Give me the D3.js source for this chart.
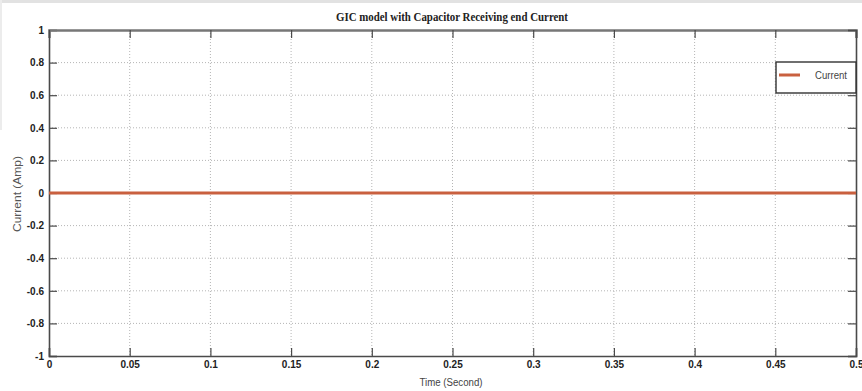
<!DOCTYPE html>
<html>
<head>
<meta charset="utf-8">
<script src="https://cdn.jsdelivr.net/npm/d3@7"></script>
<style>
  html, body { margin: 0; padding: 0; background: #fff; }
  svg { display: block; }
</style>
</head>
<body>
<svg id="chart" width="862" height="391"></svg>
<script>
// Receiving-end current of the GIC model with capacitor
const timeSec = [0, 0.05, 0.1, 0.15, 0.2, 0.25, 0.3, 0.35, 0.4, 0.45, 0.5];
const currentAmp = [0, 0, 0, 0, 0, 0, 0, 0, 0, 0, 0];
const xTicks = [0, 0.05, 0.1, 0.15, 0.2, 0.25, 0.3, 0.35, 0.4, 0.45, 0.5];
const xTickLabels = ["0", "0.05", "0.1", "0.15", "0.2", "0.25", "0.3", "0.35", "0.4", "0.45", "0.5"];
const yTicks = [1, 0.8, 0.6, 0.4, 0.2, 0, -0.2, -0.4, -0.6, -0.8, -1];
const yTickLabels = ["1", "0.8", "0.6", "0.4", "0.2", "0", "-0.2", "-0.4", "-0.6", "-0.8", "-1"];
const seriesName = "Current";
const titleText = "GIC model with Capacitor Receiving end Current";
const xLabel = "Time (Second)";
const yLabel = "Current (Amp)";

const svg = d3.select("#chart");
const W = 862, H = 391;
const m = { left: 49, right: 6, top: 30, bottom: 35 };
const pw = W - m.left - m.right, ph = H - m.top - m.bottom;

// faint frame band along the top edge
svg.append("rect").attr("x", 0).attr("y", 0).attr("width", W).attr("height", 3).attr("fill", "#e2e2e2");
svg.append("rect").attr("x", 0).attr("y", 0).attr("width", 2).attr("height", 130).attr("fill", "#ececec");

const x = d3.scaleLinear().domain([0, 0.5]).range([m.left, m.left + pw]);
const y = d3.scaleLinear().domain([-1, 1]).range([m.top + ph, m.top]);

const g = svg.append("g");
const tickFont = "'Liberation Sans', Arial, sans-serif";

// dotted grid
g.append("g").selectAll("line").data(xTicks.slice(1, -1)).join("line")
  .attr("x1", d => x(d)).attr("x2", d => x(d))
  .attr("y1", m.top).attr("y2", m.top + ph)
  .attr("stroke", "#b5b5b5").attr("stroke-width", 1).attr("stroke-dasharray", "1,2");
g.append("g").selectAll("line").data(yTicks.slice(1, -1)).join("line")
  .attr("x1", m.left).attr("x2", m.left + pw)
  .attr("y1", d => y(d)).attr("y2", d => y(d))
  .attr("stroke", "#b5b5b5").attr("stroke-width", 1).attr("stroke-dasharray", "1,2");

// axes (bottom & left with labels, top & right mirrored ticks)
const axisColor = "#4a4a4a";
const axBottom = g.append("g").attr("transform", `translate(0,${m.top + ph})`)
  .call(d3.axisBottom(x).tickValues(xTicks).tickSize(-8).tickPadding(5)
    .tickFormat((d, i) => xTickLabels[i]));
const axLeft = g.append("g").attr("transform", `translate(${m.left},0)`)
  .call(d3.axisLeft(y).tickValues(yTicks).tickSize(-8).tickPadding(5)
    .tickFormat((d, i) => yTickLabels[i]));
const axTop = g.append("g").attr("transform", `translate(0,${m.top})`)
  .call(d3.axisTop(x).tickValues(xTicks).tickSize(-8).tickFormat(""));
const axRight = g.append("g").attr("transform", `translate(${m.left + pw},0)`)
  .call(d3.axisRight(y).tickValues(yTicks).tickSize(-8).tickFormat(""));

[axBottom, axLeft, axTop, axRight].forEach(a => {
  a.select(".domain").attr("stroke", axisColor).attr("stroke-width", 1.6);
  a.selectAll(".tick line").attr("stroke", axisColor).attr("stroke-width", 1.2);
  a.selectAll(".tick text").attr("fill", "#222").attr("font-family", tickFont)
    .attr("font-size", 10).attr("font-weight", "bold");
});
axTop.select(".domain").attr("stroke", "#777").attr("stroke-width", 2.5);

// series line
const line = d3.line().x((d, i) => x(timeSec[i])).y(d => y(d));
g.append("path").datum(currentAmp)
  .attr("d", line).attr("fill", "none")
  .attr("stroke", "#c9603f").attr("stroke-width", 3);

// title
svg.append("text").attr("x", 452).attr("y", 21).attr("text-anchor", "middle")
  .attr("font-family", "'Liberation Serif', 'Times New Roman', serif")
  .attr("font-weight", "bold").attr("font-size", 11.5)
  .attr("textLength", 232).attr("lengthAdjust", "spacingAndGlyphs")
  .attr("fill", "#222").text(titleText);

// axis titles
svg.append("text").attr("x", 451).attr("y", 386).attr("text-anchor", "middle")
  .attr("font-family", tickFont).attr("font-size", 10).attr("fill", "#444")
  .attr("textLength", 63).attr("lengthAdjust", "spacingAndGlyphs")
  .text(xLabel);
svg.append("text").attr("transform", "translate(21,194) rotate(-90)")
  .attr("text-anchor", "middle").attr("font-family", tickFont)
  .attr("font-size", 10).attr("fill", "#555")
  .attr("textLength", 76).attr("lengthAdjust", "spacingAndGlyphs")
  .text(yLabel);

// legend
const lg = svg.append("g");
lg.append("rect").attr("x", 776).attr("y", 62).attr("width", 80).attr("height", 31)
  .attr("fill", "#fff").attr("stroke", "#333").attr("stroke-width", 1.4);
lg.append("line").attr("x1", 779).attr("x2", 800).attr("y1", 75).attr("y2", 75)
  .attr("stroke", "#c9603f").attr("stroke-width", 3);
lg.append("text").attr("x", 815).attr("y", 79)
  .attr("font-family", tickFont).attr("font-size", 10).attr("fill", "#444")
  .attr("textLength", 32).attr("lengthAdjust", "spacingAndGlyphs")
  .text(seriesName);
</script>
</body>
</html>
